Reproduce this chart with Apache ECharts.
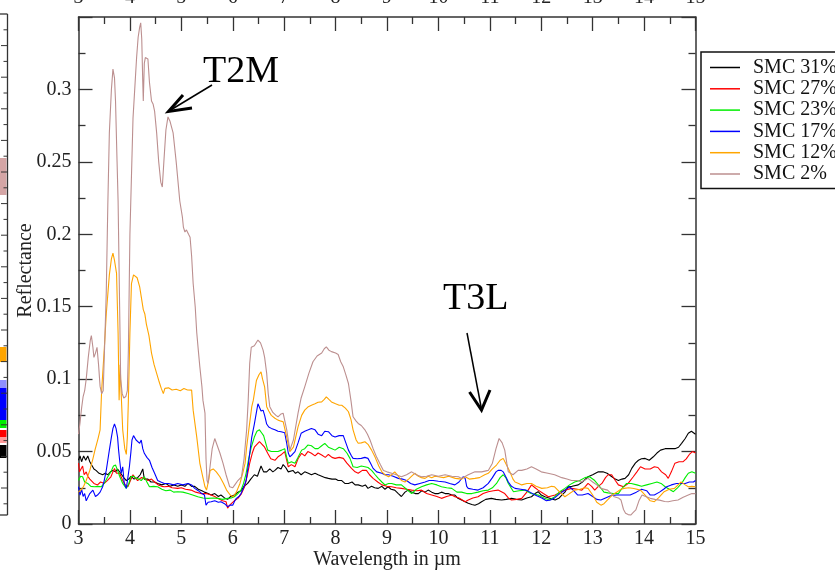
<!DOCTYPE html>
<html><head><meta charset="utf-8">
<script src="https://cdn.jsdelivr.net/npm/echarts@6/dist/echarts.min.js"></script>
<style>html,body{margin:0;padding:0;background:#fff}#c{width:835px;height:573px}</style>
</head><body><div id="c"></div>
<script>
// ---- data (wavelength in µm, reflectance) ----
const seriesNames = ['SMC 31%', 'SMC 27%', 'SMC 23%', 'SMC 17%', 'SMC 12%', 'SMC 2%'];
const seriesColors = ['#000000', '#ff0000', '#00ee00', '#0000ff', '#ffa500', '#bc8f8f'];
const xTicks = [3,4,5,6,7,8,9,10,11,12,13,14,15];
const yTicks = [0,0.05,0.1,0.15,0.2,0.25,0.3];

const smc31 = [[3.00,0.044],[3.03,0.047],[3.06,0.043],[3.10,0.047],[3.14,0.044],[3.18,0.047],[3.22,0.043],[3.25,0.042],[3.30,0.038],[3.34,0.037],[3.40,0.035],[3.47,0.034],[3.52,0.035],[3.57,0.034],[3.62,0.036],[3.67,0.037],[3.72,0.036],[3.76,0.038],[3.82,0.035],[3.88,0.032],[3.93,0.030],[3.98,0.031],[4.02,0.033],[4.08,0.031],[4.15,0.032],[4.20,0.034],[4.25,0.038],[4.28,0.031],[4.35,0.031],[4.41,0.029],[4.48,0.029],[4.54,0.028],[4.62,0.027],[4.70,0.028],[4.78,0.026],[4.86,0.027],[4.93,0.026],[5.00,0.027],[5.07,0.026],[5.13,0.028],[5.20,0.026],[5.26,0.026],[5.33,0.024],[5.40,0.023],[5.45,0.022],[5.52,0.021],[5.58,0.020],[5.65,0.021],[5.72,0.019],[5.77,0.020],[5.84,0.018],[5.90,0.017],[5.96,0.019],[6.03,0.020],[6.10,0.022],[6.16,0.023],[6.22,0.026],[6.29,0.028],[6.35,0.031],[6.42,0.034],[6.48,0.033],[6.55,0.040],[6.60,0.036],[6.66,0.036],[6.72,0.038],[6.78,0.036],[6.82,0.037],[6.88,0.039],[6.94,0.038],[6.98,0.041],[7.03,0.039],[7.08,0.036],[7.11,0.035],[7.17,0.037],[7.22,0.035],[7.27,0.036],[7.33,0.034],[7.40,0.036],[7.47,0.035],[7.53,0.034],[7.60,0.035],[7.66,0.034],[7.73,0.033],[7.80,0.032],[7.86,0.0315],[7.93,0.031],[8.00,0.031],[8.05,0.030],[8.12,0.030],[8.18,0.028],[8.25,0.028],[8.32,0.029],[8.38,0.027],[8.44,0.027],[8.52,0.026],[8.58,0.027],[8.63,0.0246],[8.70,0.026],[8.76,0.025],[8.83,0.0246],[8.90,0.026],[8.96,0.024],[9.02,0.0257],[9.08,0.024],[9.15,0.0234],[9.22,0.021],[9.28,0.019],[9.35,0.022],[9.41,0.0234],[9.48,0.022],[9.55,0.021],[9.61,0.021],[9.68,0.023],[9.74,0.022],[9.80,0.0234],[9.87,0.022],[9.93,0.021],[10.00,0.021],[10.06,0.022],[10.13,0.021],[10.19,0.021],[10.26,0.020],[10.32,0.020],[10.38,0.0177],[10.45,0.0166],[10.52,0.0154],[10.58,0.0143],[10.65,0.0135],[10.71,0.013],[10.78,0.014],[10.84,0.0154],[10.92,0.017],[11.03,0.0177],[11.12,0.017],[11.23,0.0166],[11.32,0.017],[11.42,0.0177],[11.52,0.017],[11.62,0.0166],[11.72,0.018],[11.81,0.0188],[11.88,0.021],[11.94,0.0223],[12.00,0.020],[12.07,0.0188],[12.15,0.018],[12.27,0.0166],[12.35,0.018],[12.40,0.020],[12.46,0.022],[12.52,0.0257],[12.60,0.026],[12.72,0.027],[12.80,0.029],[12.91,0.0326],[13.00,0.034],[13.11,0.036],[13.20,0.036],[13.28,0.035],[13.36,0.033],[13.44,0.031],[13.50,0.030],[13.57,0.031],[13.63,0.0315],[13.70,0.034],[13.76,0.0384],[13.83,0.042],[13.89,0.044],[13.95,0.045],[14.02,0.0453],[14.10,0.044],[14.18,0.0464],[14.25,0.049],[14.32,0.051],[14.41,0.052],[14.50,0.052],[14.60,0.052],[14.67,0.053],[14.73,0.0557],[14.80,0.059],[14.86,0.0626],[14.92,0.064],[15.00,0.062]];

const smc27 = [[3.00,0.042],[3.02,0.036],[3.05,0.035],[3.08,0.040],[3.11,0.034],[3.15,0.036],[3.18,0.033],[3.22,0.031],[3.25,0.030],[3.30,0.028],[3.37,0.027],[3.43,0.029],[3.50,0.028],[3.56,0.030],[3.63,0.0326],[3.67,0.036],[3.70,0.0384],[3.74,0.035],[3.80,0.035],[3.86,0.030],[3.91,0.027],[3.96,0.0257],[4.01,0.030],[4.06,0.034],[4.10,0.032],[4.15,0.030],[4.22,0.032],[4.28,0.0315],[4.35,0.030],[4.42,0.031],[4.48,0.029],[4.55,0.027],[4.62,0.026],[4.67,0.0257],[4.75,0.026],[4.82,0.025],[4.93,0.0246],[5.00,0.025],[5.08,0.024],[5.19,0.0234],[5.28,0.022],[5.38,0.021],[5.48,0.021],[5.58,0.020],[5.65,0.019],[5.71,0.0177],[5.80,0.016],[5.87,0.0154],[5.90,0.011],[5.94,0.013],[5.97,0.0143],[6.03,0.016],[6.10,0.0177],[6.17,0.021],[6.23,0.0257],[6.28,0.033],[6.33,0.042],[6.38,0.049],[6.42,0.053],[6.47,0.055],[6.52,0.0568],[6.57,0.055],[6.62,0.053],[6.68,0.0488],[6.74,0.045],[6.82,0.044],[6.88,0.0464],[6.95,0.048],[7.01,0.050],[7.05,0.044],[7.08,0.0395],[7.14,0.041],[7.21,0.0395],[7.27,0.045],[7.34,0.0488],[7.40,0.047],[7.46,0.050],[7.53,0.0488],[7.60,0.047],[7.66,0.049],[7.73,0.0476],[7.80,0.046],[7.86,0.048],[7.93,0.046],[7.99,0.0453],[8.07,0.046],[8.15,0.0453],[8.22,0.042],[8.31,0.0384],[8.38,0.036],[8.44,0.035],[8.52,0.037],[8.60,0.037],[8.66,0.034],[8.73,0.0315],[8.82,0.029],[8.90,0.027],[9.00,0.026],[9.09,0.0257],[9.18,0.025],[9.28,0.0246],[9.38,0.024],[9.48,0.0234],[9.58,0.023],[9.67,0.0234],[9.77,0.021],[9.87,0.020],[9.97,0.019],[10.06,0.0177],[10.16,0.019],[10.26,0.020],[10.32,0.0188],[10.40,0.018],[10.52,0.0154],[10.58,0.0166],[10.67,0.018],[10.77,0.0188],[10.87,0.021],[10.97,0.0223],[11.07,0.023],[11.16,0.0234],[11.29,0.021],[11.36,0.018],[11.42,0.0166],[11.52,0.017],[11.62,0.0177],[11.72,0.022],[11.81,0.027],[11.88,0.025],[11.94,0.0234],[12.04,0.021],[12.14,0.0188],[12.27,0.020],[12.37,0.022],[12.46,0.0234],[12.59,0.0246],[12.70,0.024],[12.79,0.0234],[12.86,0.026],[12.91,0.028],[12.98,0.026],[13.04,0.0234],[13.11,0.026],[13.18,0.028],[13.25,0.032],[13.30,0.034],[13.37,0.034],[13.44,0.030],[13.50,0.027],[13.60,0.0257],[13.69,0.028],[13.79,0.0326],[13.86,0.036],[13.93,0.0395],[14.02,0.038],[14.12,0.038],[14.20,0.0395],[14.27,0.039],[14.34,0.036],[14.42,0.034],[14.47,0.0315],[14.53,0.036],[14.60,0.042],[14.68,0.043],[14.76,0.043],[14.82,0.045],[14.88,0.048],[14.94,0.050],[15.00,0.049]];

const smc23 = [[3.00,0.030],[3.04,0.033],[3.08,0.0326],[3.12,0.029],[3.18,0.028],[3.24,0.026],[3.31,0.0257],[3.38,0.026],[3.44,0.0257],[3.50,0.028],[3.57,0.0326],[3.63,0.036],[3.68,0.040],[3.72,0.0407],[3.76,0.037],[3.80,0.033],[3.86,0.028],[3.93,0.0246],[3.98,0.028],[4.02,0.0326],[4.07,0.033],[4.12,0.0315],[4.17,0.031],[4.22,0.030],[4.28,0.0326],[4.33,0.029],[4.38,0.0257],[4.46,0.026],[4.54,0.0257],[4.62,0.024],[4.70,0.023],[4.78,0.0234],[4.85,0.022],[4.93,0.0223],[5.03,0.022],[5.13,0.021],[5.22,0.020],[5.32,0.0188],[5.42,0.018],[5.52,0.0177],[5.62,0.018],[5.71,0.0177],[5.80,0.017],[5.90,0.0177],[5.97,0.018],[6.03,0.0188],[6.10,0.021],[6.16,0.0234],[6.21,0.028],[6.26,0.035],[6.31,0.045],[6.36,0.053],[6.42,0.060],[6.47,0.064],[6.52,0.065],[6.56,0.063],[6.60,0.061],[6.64,0.056],[6.68,0.051],[6.75,0.050],[6.82,0.050],[6.88,0.050],[6.95,0.051],[7.01,0.052],[7.05,0.046],[7.08,0.042],[7.14,0.043],[7.21,0.042],[7.27,0.046],[7.34,0.051],[7.40,0.052],[7.46,0.0545],[7.53,0.054],[7.60,0.052],[7.66,0.052],[7.73,0.054],[7.79,0.0557],[7.86,0.053],[7.93,0.052],[7.99,0.051],[8.07,0.053],[8.15,0.052],[8.22,0.049],[8.28,0.0453],[8.34,0.0395],[8.42,0.039],[8.50,0.040],[8.57,0.0395],[8.63,0.039],[8.70,0.037],[8.77,0.034],[8.83,0.0315],[8.90,0.029],[8.96,0.027],[9.03,0.028],[9.09,0.028],[9.18,0.027],[9.28,0.027],[9.38,0.024],[9.48,0.021],[9.57,0.024],[9.67,0.0257],[9.77,0.027],[9.87,0.028],[9.97,0.027],[10.06,0.0257],[10.16,0.025],[10.26,0.0246],[10.36,0.022],[10.45,0.022],[10.55,0.021],[10.65,0.021],[10.77,0.022],[10.87,0.023],[10.97,0.0234],[11.05,0.025],[11.13,0.028],[11.20,0.032],[11.26,0.034],[11.31,0.032],[11.36,0.028],[11.46,0.0223],[11.57,0.023],[11.68,0.0234],[11.80,0.021],[11.94,0.020],[12.05,0.018],[12.16,0.0166],[12.27,0.019],[12.36,0.0223],[12.46,0.0246],[12.55,0.027],[12.65,0.029],[12.75,0.030],[12.85,0.032],[12.94,0.0326],[13.04,0.030],[13.14,0.0257],[13.22,0.022],[13.30,0.0215],[13.40,0.021],[13.50,0.021],[13.58,0.025],[13.66,0.028],[13.75,0.028],[13.86,0.027],[13.95,0.026],[14.05,0.027],[14.15,0.028],[14.25,0.029],[14.33,0.028],[14.41,0.0257],[14.49,0.024],[14.57,0.0223],[14.65,0.025],[14.73,0.028],[14.80,0.032],[14.86,0.035],[14.93,0.036],[15.00,0.035]];

const smc17 = [[3.00,0.0257],[3.03,0.020],[3.06,0.024],[3.09,0.019],[3.12,0.021],[3.15,0.016],[3.18,0.017],[3.22,0.021],[3.28,0.0234],[3.33,0.019],[3.37,0.020],[3.42,0.022],[3.47,0.0257],[3.50,0.030],[3.54,0.037],[3.57,0.044],[3.60,0.051],[3.64,0.060],[3.67,0.066],[3.70,0.069],[3.73,0.066],[3.76,0.060],[3.78,0.051],[3.80,0.044],[3.83,0.035],[3.86,0.0395],[3.89,0.028],[3.93,0.0246],[3.96,0.032],[3.99,0.0395],[4.02,0.050],[4.04,0.058],[4.07,0.061],[4.09,0.060],[4.12,0.058],[4.15,0.058],[4.19,0.0557],[4.22,0.058],[4.25,0.052],[4.28,0.0488],[4.33,0.046],[4.38,0.044],[4.43,0.039],[4.48,0.035],[4.54,0.030],[4.60,0.029],[4.67,0.028],[4.75,0.028],[4.85,0.027],[4.93,0.028],[5.03,0.027],[5.13,0.028],[5.20,0.027],[5.26,0.0246],[5.33,0.023],[5.40,0.021],[5.45,0.020],[5.48,0.013],[5.52,0.015],[5.58,0.0154],[5.65,0.016],[5.72,0.015],[5.77,0.0154],[5.84,0.014],[5.90,0.012],[5.95,0.013],[6.00,0.013],[6.04,0.016],[6.07,0.0177],[6.12,0.019],[6.16,0.021],[6.21,0.025],[6.26,0.030],[6.30,0.040],[6.33,0.0488],[6.37,0.060],[6.42,0.069],[6.46,0.077],[6.49,0.083],[6.52,0.083],[6.55,0.078],[6.59,0.0786],[6.62,0.075],[6.66,0.069],[6.70,0.067],[6.75,0.066],[6.82,0.065],[6.88,0.064],[6.94,0.0637],[7.01,0.063],[7.05,0.0557],[7.08,0.049],[7.11,0.0464],[7.16,0.048],[7.21,0.050],[7.27,0.056],[7.33,0.0626],[7.40,0.064],[7.47,0.065],[7.53,0.066],[7.60,0.065],[7.66,0.062],[7.73,0.061],[7.79,0.064],[7.86,0.0637],[7.93,0.061],[7.99,0.060],[8.07,0.061],[8.15,0.061],[8.20,0.056],[8.25,0.051],[8.31,0.047],[8.34,0.0453],[8.42,0.045],[8.50,0.0453],[8.57,0.046],[8.63,0.0453],[8.68,0.042],[8.73,0.0384],[8.80,0.036],[8.90,0.035],[8.96,0.034],[9.03,0.034],[9.12,0.033],[9.22,0.0315],[9.30,0.031],[9.38,0.030],[9.46,0.028],[9.54,0.027],[9.64,0.028],[9.74,0.029],[9.82,0.030],[9.90,0.030],[10.00,0.0295],[10.13,0.029],[10.22,0.028],[10.32,0.027],[10.40,0.029],[10.48,0.0326],[10.52,0.0315],[10.55,0.026],[10.58,0.0246],[10.67,0.024],[10.77,0.0234],[10.87,0.025],[10.97,0.028],[11.05,0.032],[11.12,0.036],[11.16,0.037],[11.22,0.037],[11.26,0.036],[11.32,0.032],[11.36,0.029],[11.42,0.026],[11.49,0.0246],[11.60,0.024],[11.70,0.0234],[11.78,0.022],[11.88,0.020],[12.01,0.018],[12.10,0.016],[12.18,0.0166],[12.26,0.018],[12.36,0.021],[12.46,0.0234],[12.55,0.0257],[12.63,0.023],[12.71,0.020],[12.80,0.020],[12.91,0.021],[13.00,0.019],[13.08,0.017],[13.16,0.0166],[13.25,0.018],[13.35,0.0195],[13.47,0.020],[13.60,0.020],[13.73,0.020],[13.85,0.022],[13.95,0.024],[14.05,0.023],[14.12,0.020],[14.20,0.020],[14.30,0.022],[14.38,0.024],[14.44,0.0257],[14.53,0.027],[14.63,0.028],[14.72,0.028],[14.80,0.028],[14.88,0.029],[14.96,0.029],[15.00,0.030]];

const smc12 = [[3.00,0.022],[3.03,0.023],[3.06,0.024],[3.10,0.026],[3.15,0.030],[3.22,0.037],[3.28,0.045],[3.32,0.051],[3.38,0.059],[3.42,0.065],[3.45,0.092],[3.50,0.120],[3.54,0.145],[3.60,0.172],[3.64,0.183],[3.67,0.187],[3.70,0.182],[3.74,0.173],[3.77,0.132],[3.79,0.0855],[3.81,0.11],[3.83,0.09],[3.86,0.065],[3.90,0.052],[3.93,0.048],[3.95,0.060],[3.97,0.0855],[4.00,0.132],[4.03,0.166],[4.07,0.172],[4.10,0.173],[4.14,0.170],[4.19,0.1637],[4.22,0.157],[4.26,0.148],[4.29,0.145],[4.32,0.138],[4.37,0.130],[4.42,0.118],[4.47,0.110],[4.52,0.104],[4.57,0.098],[4.61,0.0936],[4.65,0.090],[4.68,0.0936],[4.75,0.094],[4.82,0.0925],[4.90,0.093],[4.98,0.092],[5.05,0.0935],[5.12,0.0925],[5.20,0.0924],[5.23,0.0786],[5.30,0.060],[5.36,0.0419],[5.42,0.032],[5.46,0.0257],[5.49,0.0234],[5.53,0.030],[5.56,0.037],[5.62,0.038],[5.68,0.036],[5.75,0.0326],[5.82,0.028],[5.88,0.0234],[5.95,0.020],[6.01,0.0188],[6.07,0.022],[6.14,0.028],[6.20,0.036],[6.24,0.042],[6.27,0.053],[6.33,0.070],[6.37,0.081],[6.40,0.0855],[6.46,0.099],[6.51,0.103],[6.55,0.105],[6.58,0.100],[6.62,0.0947],[6.66,0.081],[6.70,0.078],[6.75,0.075],[6.82,0.073],[6.88,0.0717],[6.94,0.071],[6.98,0.0706],[7.05,0.060],[7.11,0.050],[7.18,0.053],[7.27,0.067],[7.34,0.075],[7.40,0.0786],[7.47,0.081],[7.53,0.082],[7.60,0.083],[7.66,0.084],[7.73,0.0843],[7.78,0.086],[7.82,0.0878],[7.87,0.086],[7.92,0.0843],[8.00,0.083],[8.07,0.082],[8.12,0.082],[8.19,0.080],[8.25,0.0775],[8.30,0.072],[8.34,0.065],[8.40,0.058],[8.44,0.0557],[8.50,0.056],[8.57,0.0568],[8.63,0.055],[8.70,0.051],[8.77,0.046],[8.84,0.040],[8.90,0.036],[8.96,0.034],[9.03,0.0326],[9.09,0.034],[9.15,0.036],[9.22,0.033],[9.28,0.030],[9.35,0.029],[9.42,0.031],[9.48,0.033],[9.54,0.035],[9.61,0.033],[9.67,0.032],[9.74,0.0315],[9.80,0.033],[9.87,0.032],[9.93,0.033],[10.00,0.0326],[10.10,0.032],[10.20,0.033],[10.33,0.0315],[10.45,0.031],[10.52,0.0326],[10.60,0.031],[10.71,0.0315],[10.80,0.032],[10.90,0.034],[10.97,0.035],[11.05,0.038],[11.13,0.0407],[11.20,0.044],[11.26,0.0453],[11.32,0.041],[11.39,0.036],[11.45,0.031],[11.49,0.029],[11.56,0.028],[11.62,0.027],[11.72,0.028],[11.81,0.028],[11.90,0.026],[12.01,0.0246],[12.12,0.025],[12.20,0.026],[12.26,0.0257],[12.36,0.022],[12.46,0.0188],[12.55,0.021],[12.65,0.0234],[12.75,0.024],[12.85,0.025],[12.91,0.0246],[13.00,0.020],[13.08,0.015],[13.16,0.013],[13.22,0.014],[13.29,0.0166],[13.38,0.020],[13.48,0.0223],[13.55,0.024],[13.61,0.0246],[13.70,0.025],[13.80,0.0245],[13.93,0.0234],[14.02,0.020],[14.12,0.016],[14.20,0.0154],[14.28,0.018],[14.39,0.0223],[14.49,0.024],[14.59,0.0246],[14.66,0.027],[14.72,0.029],[14.80,0.027],[14.86,0.0257],[14.93,0.026],[15.00,0.0257]];

const smc2 = [[3.00,0.062],[3.03,0.070],[3.06,0.080],[3.09,0.088],[3.12,0.092],[3.15,0.100],[3.19,0.115],[3.23,0.127],[3.25,0.130],[3.28,0.122],[3.30,0.115],[3.33,0.118],[3.36,0.122],[3.39,0.110],[3.42,0.095],[3.45,0.090],[3.48,0.092],[3.51,0.125],[3.54,0.160],[3.57,0.220],[3.60,0.270],[3.64,0.300],[3.67,0.314],[3.70,0.308],[3.72,0.292],[3.75,0.250],[3.77,0.223],[3.80,0.150],[3.82,0.100],[3.85,0.090],[3.88,0.087],[3.92,0.088],[3.95,0.092],[3.97,0.120],[4.00,0.200],[4.03,0.240],[4.06,0.280],[4.10,0.304],[4.13,0.322],[4.16,0.336],[4.19,0.343],[4.21,0.346],[4.23,0.335],[4.25,0.305],[4.26,0.292],[4.28,0.318],[4.30,0.322],[4.33,0.322],[4.35,0.321],[4.38,0.305],[4.42,0.292],[4.45,0.290],[4.48,0.285],[4.52,0.270],[4.56,0.250],[4.60,0.236],[4.63,0.2326],[4.66,0.250],[4.70,0.272],[4.74,0.281],[4.78,0.278],[4.84,0.270],[4.90,0.250],[4.97,0.223],[5.02,0.212],[5.04,0.205],[5.07,0.2016],[5.10,0.203],[5.14,0.200],[5.17,0.198],[5.20,0.185],[5.23,0.166],[5.27,0.150],[5.30,0.132],[5.33,0.120],[5.36,0.1085],[5.40,0.095],[5.42,0.0855],[5.46,0.0765],[5.48,0.045],[5.50,0.030],[5.52,0.028],[5.56,0.040],[5.60,0.052],[5.65,0.059],[5.70,0.054],[5.75,0.049],[5.81,0.042],[5.87,0.034],[5.94,0.0257],[6.00,0.025],[6.04,0.027],[6.10,0.030],[6.17,0.0326],[6.22,0.045],[6.27,0.065],[6.30,0.085],[6.33,0.111],[6.36,0.122],[6.42,0.123],[6.49,0.127],[6.54,0.125],[6.59,0.120],[6.62,0.115],[6.66,0.104],[6.69,0.090],[6.72,0.081],[6.78,0.077],[6.84,0.075],[6.88,0.074],[6.94,0.076],[6.98,0.0765],[7.05,0.065],[7.11,0.051],[7.18,0.058],[7.27,0.0765],[7.33,0.087],[7.40,0.0947],[7.48,0.104],[7.56,0.112],[7.64,0.116],[7.73,0.118],[7.78,0.121],[7.82,0.1223],[7.87,0.120],[7.92,0.119],[8.00,0.118],[8.05,0.117],[8.10,0.112],[8.15,0.1085],[8.20,0.103],[8.25,0.097],[8.30,0.085],[8.34,0.074],[8.40,0.071],[8.44,0.0694],[8.50,0.068],[8.57,0.065],[8.62,0.062],[8.67,0.058],[8.73,0.052],[8.80,0.046],[8.87,0.041],[8.93,0.037],[9.00,0.036],[9.09,0.035],[9.18,0.034],[9.28,0.0326],[9.38,0.034],[9.48,0.036],[9.57,0.034],[9.67,0.0326],[9.77,0.033],[9.87,0.034],[10.00,0.033],[10.13,0.034],[10.26,0.033],[10.39,0.0326],[10.45,0.0315],[10.58,0.034],[10.71,0.036],[10.84,0.036],[10.97,0.037],[11.05,0.042],[11.12,0.052],[11.18,0.059],[11.24,0.056],[11.29,0.051],[11.33,0.042],[11.36,0.036],[11.45,0.034],[11.55,0.037],[11.62,0.037],[11.72,0.038],[11.81,0.0395],[11.90,0.038],[12.00,0.036],[12.13,0.035],[12.26,0.034],[12.40,0.032],[12.50,0.031],[12.59,0.030],[12.70,0.030],[12.78,0.029],[12.91,0.0315],[13.00,0.029],[13.08,0.027],[13.16,0.0246],[13.29,0.0234],[13.36,0.021],[13.42,0.0188],[13.50,0.018],[13.55,0.0166],[13.60,0.010],[13.64,0.0074],[13.69,0.0065],[13.74,0.0062],[13.79,0.008],[13.84,0.0097],[13.90,0.016],[13.96,0.020],[14.03,0.019],[14.12,0.0177],[14.21,0.017],[14.30,0.0165],[14.40,0.0155],[14.47,0.0154],[14.56,0.016],[14.66,0.0166],[14.76,0.0185],[14.86,0.020],[14.93,0.021],[15.00,0.021]];

const seriesData = [smc31, smc27, smc23, smc17, smc12, smc2];

// ---- chart ----
const FONT = '"Liberation Serif", "DejaVu Serif", serif';
const AX = '#333';
const chart = echarts.init(document.getElementById('c'), null, {renderer: 'canvas'});

function xAxisCfg(pos, margin) {
  return {
    type: 'value', position: pos, min: xTicks[0], max: xTicks[xTicks.length - 1], interval: 1,
    axisLine: {show: true, onZero: false, lineStyle: {color: AX, width: 1.5}},
    axisTick: {show: true, inside: true, length: 14, lineStyle: {color: AX, width: 1.3}},
    minorTick: {show: true, splitNumber: 2, length: 7, lineStyle: {color: AX, width: 1.3}},
    splitLine: {show: false},
    axisLabel: {show: true, margin: margin, fontFamily: FONT, fontSize: 20, color: '#222'}
  };
}
function yAxisCfg(pos, showLabel) {
  return {
    type: 'value', position: pos, min: 0, max: 0.35, interval: 0.05,
    axisLine: {show: true, onZero: false, lineStyle: {color: AX, width: 1.5}},
    axisTick: {show: true, inside: true, length: 14, lineStyle: {color: AX, width: 1.3}},
    minorTick: {show: true, splitNumber: 2, length: 7, lineStyle: {color: AX, width: 1.3}},
    splitLine: {show: false},
    axisLabel: {show: showLabel, margin: 7, fontFamily: FONT, fontSize: 20, color: '#222',
      showMaxLabel: false,
      formatter: v => (yTicks.some(t => Math.abs(t - v) < 1e-9) ? String(+v.toFixed(2)) : '')}
  };
}

const xBottom = xAxisCfg('bottom', 5);
xBottom.name = 'Wavelength in µm';
xBottom.nameLocation = 'middle';
xBottom.nameGap = 26;
xBottom.nameMoveOverlap = false;
xBottom.nameTextStyle = {fontFamily: FONT, fontSize: 20, color: '#222'};
const xTop = xAxisCfg('top', 9);

const yLeft = yAxisCfg('left', true);
yLeft.name = 'Reflectance';
yLeft.nameLocation = 'middle';
yLeft.nameGap = 43;
yLeft.nameMoveOverlap = false;
yLeft.nameTextStyle = {fontFamily: FONT, fontSize: 20, color: '#222'};
const yRight = yAxisCfg('right', false);

// remnant of neighbouring panel at the left edge (decorative)
const remnant = [];
remnant.push({type: 'line', shape: {x1: 7.5, y1: 14, x2: 7.5, y2: 515}, style: {stroke: '#333', lineWidth: 1.3}});
remnant.push({type: 'line', shape: {x1: 0, y1: 14, x2: 7.5, y2: 14}, style: {stroke: '#333', lineWidth: 1.3}});
remnant.push({type: 'line', shape: {x1: 0, y1: 515, x2: 7.5, y2: 515}, style: {stroke: '#333', lineWidth: 1.3}});
for (let k = 1; k <= 31; k++) {
  const yy = 14 + k * 15.8;
  if (yy > 512) break;
  remnant.push({type: 'line', shape: {x1: 7.5, y1: yy, x2: (k % 2 ? 3.5 : 1), y2: yy}, style: {stroke: '#333', lineWidth: 1}});
}
const patches = [[158, 37, '#d4a5a5'], [347, 15, '#ffa500'], [380, 8, '#8f8fff'], [388, 32, '#0000ff'], [420, 8, '#00ee00'], [430, 7, '#ff0000'], [437, 6, '#ff9a9a'], [445, 13, '#000000']];
patches.forEach(p => remnant.push({type: 'rect', shape: {x: 0, y: p[0], width: 6.5, height: p[1]}, style: {fill: p[2]}, z: -1}));

const annotations = [
  {type: 'text', x: 203, y: 72, style: {text: 'T2M', font: '38px ' + FONT, fill: '#000', verticalAlign: 'middle', align: 'left'}},
  {type: 'polyline', shape: {points: [[212, 85], [169, 111]]}, style: {stroke: '#000', lineWidth: 1.5, fill: null}},
  {type: 'polyline', shape: {points: [[183, 95], [168.5, 111.5], [192, 108]]}, style: {stroke: '#000', lineWidth: 3, fill: null}},
  {type: 'text', x: 443, y: 299, style: {text: 'T3L', font: '38px ' + FONT, fill: '#000', verticalAlign: 'middle', align: 'left'}},
  {type: 'polyline', shape: {points: [[467, 333], [481.5, 409]]}, style: {stroke: '#000', lineWidth: 1.5, fill: null}},
  {type: 'polyline', shape: {points: [[469.5, 392], [481.5, 410], [490, 390]]}, style: {stroke: '#000', lineWidth: 3, fill: null}}
];

chart.setOption({
  animation: false,
  backgroundColor: '#fff',
  grid: {left: 78.5, right: 139.5, top: 17, bottom: 49, containLabel: false, outerBoundsMode: 'none'},
  xAxis: [xBottom, xTop],
  yAxis: [yLeft, yRight],
  legend: {
    orient: 'vertical', left: 701, top: 52,
    padding: [5.5, 30, 4.5, 9],
    itemGap: 1.3, itemWidth: 30, itemHeight: 1.5, icon: 'rect',
    borderColor: '#111', borderWidth: 1.5, borderRadius: 0,
    textStyle: {fontFamily: FONT, fontSize: 20, color: '#111', padding: [0, 0, 0, 8]},
    data: seriesNames
  },
  series: seriesNames.map((n, i) => ({
    name: n, type: 'line', data: seriesData[i], xAxisIndex: 0, yAxisIndex: 0,
    showSymbol: false, symbol: 'none', smooth: false,
    lineStyle: {color: seriesColors[i], width: 1.1},
    itemStyle: {color: seriesColors[i]},
    z: 2 + i
  })),
  graphic: remnant.concat(annotations)
});
</script>
</body></html>
